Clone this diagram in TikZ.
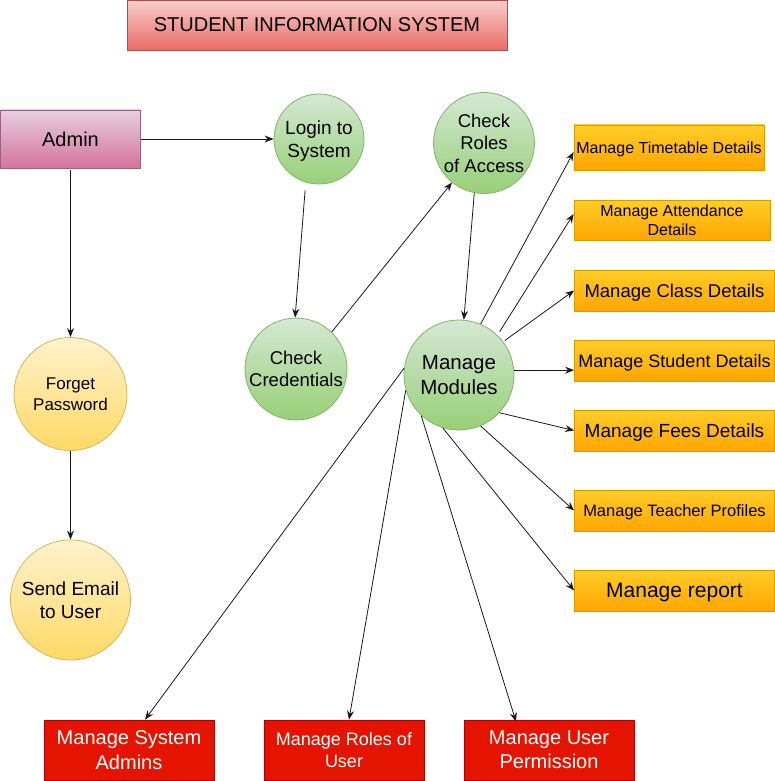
\documentclass[tikz,border=0pt]{standalone}
\usepackage{fontspec}
\setmainfont{Liberation Sans}
\usetikzlibrary{arrows.meta}
\newcommand{\fsz}[1]{\fontsize{#1}{\dimexpr #1pt*121/100\relax}\selectfont}
\begin{document}
\begin{tikzpicture}[x=1pt,y=-1pt,
  fs/.style={font=\fsz{#1}},
  base/.style={draw, inner sep=0pt, text depth=0pt, align=center, line width=0.8pt},
  titlebox/.style={base, draw=red!55!black!70, top color={rgb,255:red,248;green,206;blue,204}, bottom color={rgb,255:red,234;green,107;blue,102}},
  actor/.style={base, draw={rgb,255:red,153;green,97;blue,133}, top color={rgb,255:red,230;green,208;blue,222}, bottom color={rgb,255:red,213;green,115;blue,157}},
  greenproc/.style={base, circle, draw={rgb,255:red,130;green,179;blue,102}, top color={rgb,255:red,213;green,232;blue,212}, bottom color={rgb,255:red,151;green,208;blue,119}},
  yellowproc/.style={base, circle, draw={rgb,255:red,214;green,182;blue,86}, top color={rgb,255:red,255;green,242;blue,204}, bottom color={rgb,255:red,255;green,217;blue,102}},
  module/.style={base, draw={rgb,255:red,215;green,155;blue,0}, top color={rgb,255:red,255;green,205;blue,40}, bottom color={rgb,255:red,255;green,165;blue,0}},
  adminbox/.style={base, draw={rgb,255:red,178;green,0;blue,0}, fill={rgb,255:red,229;green,20;blue,0}, text=white, minimum width=170pt, minimum height=60pt},
  flow/.style={line width=0.8pt, draw=black!90, -{Stealth[length=9pt,width=7pt,inset=3pt]}}
]
\useasboundingbox (0,0) rectangle (775,781);

% title and actor
\node[titlebox, fs=20, minimum width=380pt, minimum height=50pt] (title) at (317,25) {STUDENT INFORMATION SYSTEM};
\node[actor, fs=20, minimum width=140pt, minimum height=58pt] (admin) at (70.5,139) {Admin};

% process circles
\node[greenproc, fs=19, minimum size=90pt] (login) at (319,139) {Login to\\System};
\node[greenproc, fs=18.5, minimum size=101pt] (roles) at (484,143) {Check\\Roles\\of Access};
\node[greenproc, fs=18.5, minimum size=102pt] (cred) at (296,369) {Check\\Credentials};
\node[greenproc, fs=20.5, minimum size=110pt] (mm) at (459,375) {Manage\\Modules};
\node[yellowproc, fs=17, minimum size=113pt] (forget) at (70.5,394) {Forget\\Password};
\node[yellowproc, fs=19, minimum size=120pt] (email) at (70.5,600) {Send Email\\to User};

% module boxes
\node[module, fs=16, minimum width=190pt, minimum height=45pt] (tt) at (669,147.5) {Manage Timetable Details};
\node[module, fs=16, minimum width=196pt, minimum height=40pt] (att) at (672,220) {\fontsize{16}{18.5}\selectfont Manage Attendance\\Details};
\node[module, fs=18.5, minimum width=200pt, minimum height=41pt] (cls) at (674.5,290.5) {Manage Class Details};
\node[module, fs=18, minimum width=200pt, minimum height=41pt] (stu) at (674.5,360.5) {Manage Student Details};
\node[module, fs=19, minimum width=200pt, minimum height=41pt] (fees) at (674.5,430.5) {Manage Fees Details};
\node[module, fs=16.5, minimum width=200pt, minimum height=41pt] (tea) at (674.5,510.5) {Manage Teacher Profiles};
\node[module, fs=21, minimum width=200pt, minimum height=41pt] (rep) at (674.5,590.5) {Manage report};

% administration boxes
\node[adminbox, fs=20] (sysadm) at (129,750) {Manage System\\Admins};
\node[adminbox, fs=18, minimum width=160pt] (roleusr) at (344,750) {Manage Roles of\\User};
\node[adminbox, fs=20] (perm) at (549,750) {Manage User\\Permission};

% connectors
\draw[flow] (admin.east) -- (login.west);
\draw[flow, shorten <=2pt] (admin.south) -- (forget.north);
\draw[flow] (forget.south) -- (email.north);
\draw[flow, shorten <=8pt] (login.253) -- (cred.91);
\draw[flow] (cred.46) -- (roles.231);
\draw[flow] (roles.259) -- (mm.85);

\draw[flow] (mm.67) -- ([yshift=-4.5pt]tt.west);
\draw[flow, shorten <=4pt] (mm.46) -- ([yshift=6pt]att.west);
\draw[flow, shorten <=2pt] (mm.37) -- (cls.west);
\draw[flow] (mm.5) -- (mm.5 -| stu.west);
\draw[flow] (mm.-43) -- (fees.west);
\draw[flow] (mm.-67) -- (tea.west);
\draw[flow] (mm.-107) -- (rep.west);

\draw[flow] (mm.173) -- ([xshift=16pt]sysadm.north);
\draw[flow] (mm.196) -- ([xshift=5pt]roleusr.north);
\draw[flow] (mm.227) -- ([xshift=-33pt,yshift=-2pt]perm.north);
\end{tikzpicture}
\end{document}
